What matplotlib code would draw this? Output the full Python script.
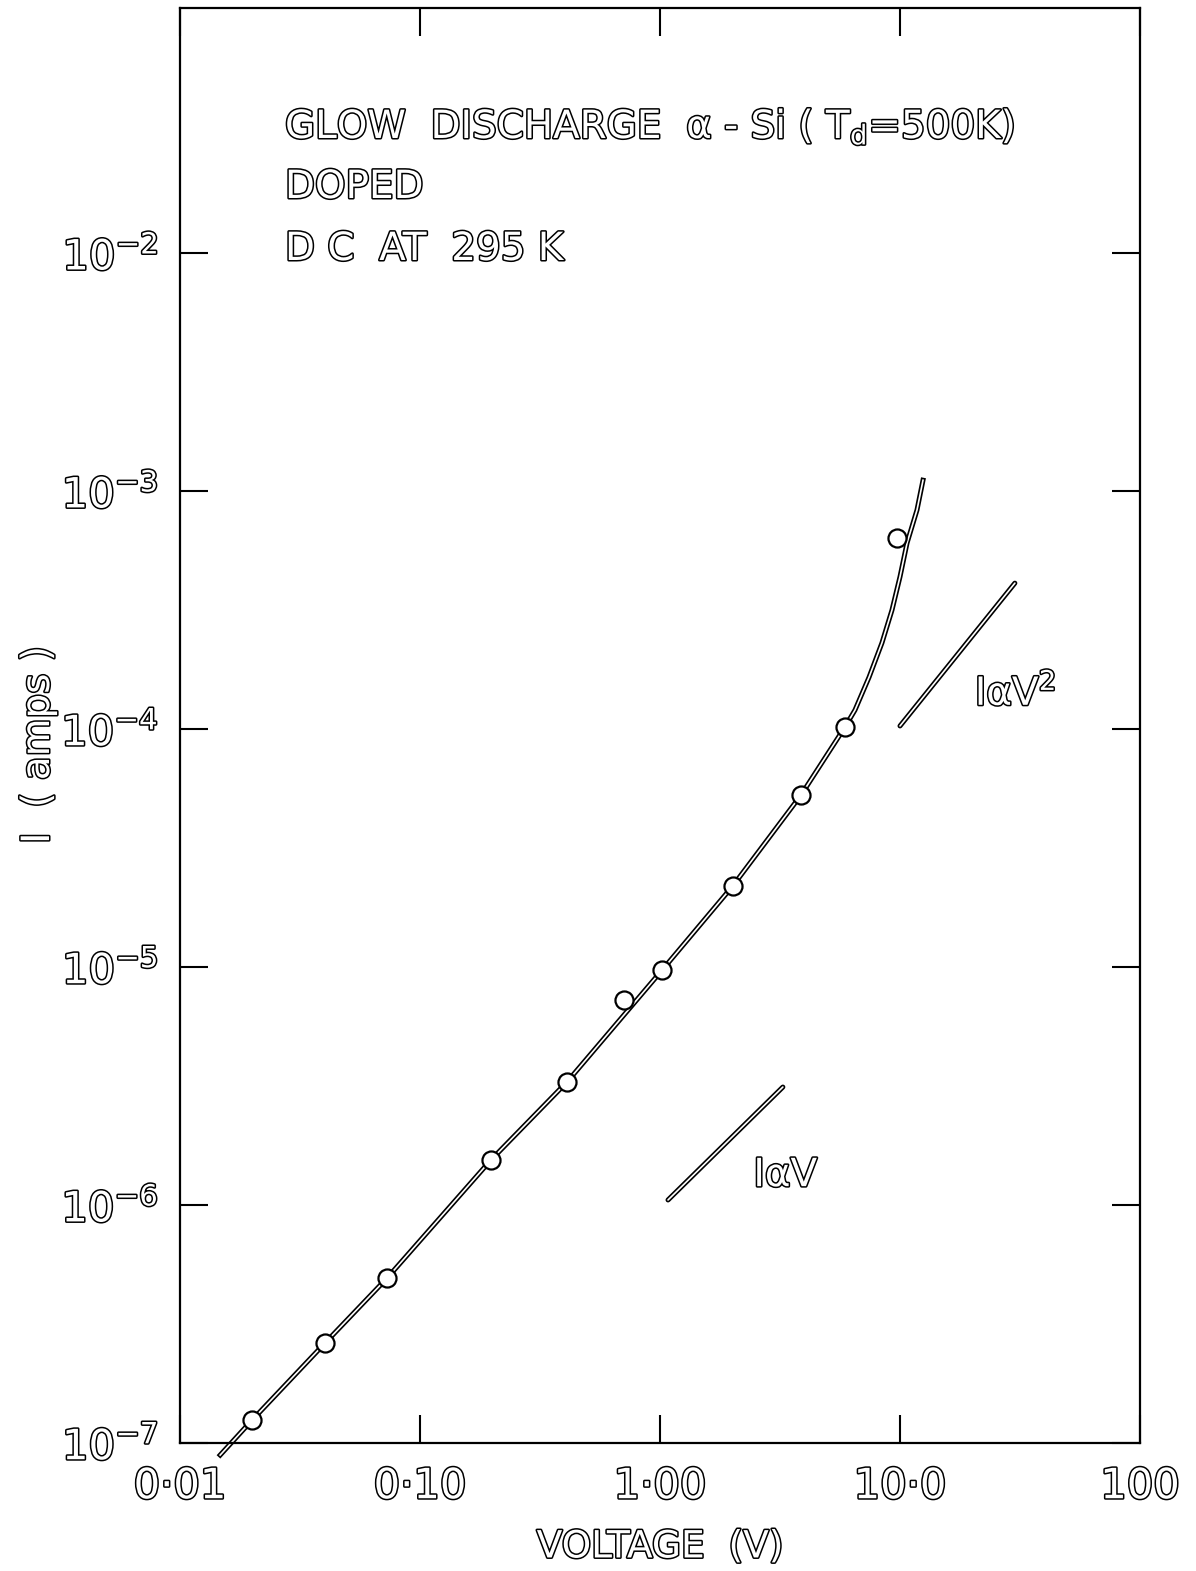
import numpy as np
import matplotlib
matplotlib.use('Agg')
import matplotlib.pyplot as plt
import matplotlib.patheffects as pe
from matplotlib.ticker import FixedLocator, NullLocator

# measured points (open circles)
volts = [0.0200, 0.0402, 0.0729, 0.198, 0.410, 0.708, 1.02, 2.01, 3.87, 5.90, 9.72]
amps = [1.25e-7, 2.63e-7, 4.93e-7, 1.55e-6, 3.29e-6, 7.26e-6, 9.7e-6, 2.19e-5, 5.28e-5, 1.02e-4, 6.35e-4]

# hand drawn fit curve
curve_v = [0.0147, 0.0200, 0.0402, 0.0729, 0.198, 0.410, 1.02, 2.01, 3.87, 5.90,
           6.49, 7.43, 8.41, 9.26, 10.0, 10.7, 11.77, 12.47]
curve_i = [8.9e-8, 1.25e-7, 2.63e-7, 4.93e-7, 1.55e-6, 3.29e-6, 9.7e-6, 2.19e-5, 5.28e-5, 1.02e-4,
           1.20e-4, 1.65e-4, 2.30e-4, 3.16e-4, 4.36e-4, 6.05e-4, 8.32e-4, 1.11e-3]

# slope guides
lin_v = [1.08, 3.25]
lin_i = [1.05e-6, 3.13e-6]
sq_v = [10.0, 30.1]
sq_i = [1.03e-4, 4.1e-4]

xticks = [0.01, 0.1, 1, 10, 100]
xlabels = ['0·01', '0·10', '1·00', '10·0', '100']
yticks = [1e-7, 1e-6, 1e-5, 1e-4, 1e-3, 1e-2]
ylabels = ['$10^{-7}$', '$10^{-6}$', '$10^{-5}$', '$10^{-4}$', '$10^{-3}$', '$10^{-2}$']

outline = [pe.withStroke(linewidth=2.2, foreground='black')]
dline = [pe.Stroke(linewidth=3.6, foreground='black'), pe.Normal()]

fig = plt.figure(figsize=(11.96, 15.71), dpi=100)
ax = fig.add_axes([180/1196, 128/1571, 960/1196, 1435/1571])
ax.set_xscale('log')
ax.set_yscale('log')
ax.set_xlim(0.01, 100)
ax.set_ylim(1e-7, 1.07e-1)

ax.plot(curve_v, curve_i, color='white', lw=1.2, path_effects=dline, zorder=2, clip_on=False)
ax.plot(volts, amps, 'o', ms=13, mfc='white', mec='black', mew=1.6, zorder=3)
ax.plot(lin_v, lin_i, color='white', lw=1.2, path_effects=dline, solid_capstyle='round')
ax.plot(sq_v, sq_i, color='white', lw=1.2, path_effects=dline, solid_capstyle='round')

ax.text(2.45, 1.2e-6, 'IαV', fontsize=28, color='white', path_effects=outline)
ax.text(20.5, 1.26e-4, 'IαV$^{\\mathregular{2}}$', fontsize=28, color='white', path_effects=outline)

ax.xaxis.set_major_locator(FixedLocator(xticks))
ax.yaxis.set_major_locator(FixedLocator(yticks))
ax.xaxis.set_minor_locator(NullLocator())
ax.yaxis.set_minor_locator(NullLocator())
ax.set_xticklabels(xlabels)
ax.set_yticklabels(ylabels)
ax.tick_params(which='major', direction='in', length=20, width=1.5,
               top=True, right=True, labelsize=30, pad=16)
for lbl in ax.get_xticklabels() + ax.get_yticklabels():
    lbl.set_color('white')
    lbl.set_path_effects(outline)
for s in ax.spines.values():
    s.set_linewidth(1.6)

ax.set_xlabel('VOLTAGE  (V)', fontsize=27, color='white', path_effects=outline, labelpad=16)
fig.text(38/1196, 1 - 745/1571, 'I  ( amps )', fontsize=28, color='white', path_effects=outline,
         rotation=90, ha='center', va='center')

fig.text(285/1196, 1 - 138/1571, 'GLOW  DISCHARGE  α - Si ( T$_\\mathregular{d}$=500K)',
         fontsize=28, color='white', path_effects=outline, va='baseline')
fig.text(285/1196, 1 - 198/1571, 'DOPED', fontsize=28, color='white', path_effects=outline, va='baseline')
fig.text(285/1196, 1 - 260/1571, 'D C  AT  295 K', fontsize=28, color='white', path_effects=outline, va='baseline')

fig.savefig('out.png', dpi=100)
